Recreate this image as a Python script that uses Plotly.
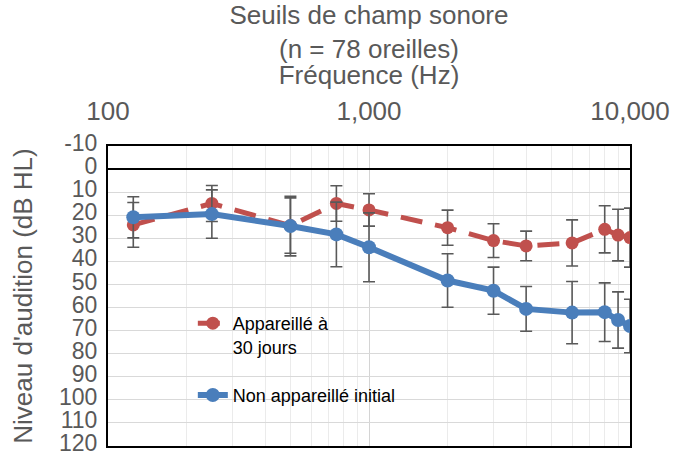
import plotly.graph_objects as go

# Data
freqs = [125, 250, 500, 750, 1000, 2000, 3000, 4000, 6000, 8000, 9000, 10000]

aided_30d = [24.2, 14.9, 24.5, 14.9, 17.7, 25.4, 31.0, 33.3, 32.0, 26.1, 28.6, 29.7]
aided_30d_err = [9.7, 7.8, 12.0, 7.7, 7.0, 7.6, 7.3, 6.4, 10.0, 10.2, 11.2, 12.8]

unaided_init = [20.9, 19.5, 24.7, 28.3, 33.9, 48.3, 52.7, 60.6, 62.2, 62.0, 65.4, 68.0]
unaided_init_err = [8.9, 10.5, 12.9, 14.0, 14.9, 11.6, 10.2, 9.7, 13.5, 12.7, 12.2, 11.6]

x_tickvals = [100, 1000, 10000]
x_ticktext = ["100", "1,000", "10,000"]
y_tickvals = list(range(-10, 130, 10))
y_ticktext = [str(v) for v in y_tickvals]

RED = "#C0504D"
BLUE = "#4A7EBB"
GREY_TXT = "#595959"
ERR = "#595959"
FONT = "Liberation Sans, Arial, sans-serif"

W, H = 675, 457

fig = go.Figure()

fig.add_trace(go.Scatter(
    x=freqs, y=aided_30d, name="Appareillé à<br>30 jours",
    mode="lines+markers", legendgroup="a",
    line=dict(color=RED, width=5, dash="22px,13px"),
    marker=dict(color=RED, size=13),
    error_y=dict(type="data", array=aided_30d_err, color=ERR, thickness=1.6, width=6),
))
fig.add_trace(go.Scatter(
    x=freqs, y=unaided_init, name="Non appareillé initial",
    mode="lines+markers", legendgroup="b",
    line=dict(color=BLUE, width=6),
    marker=dict(color=BLUE, size=14),
    error_y=dict(type="data", array=unaided_init_err, color=ERR, thickness=1.6, width=6),
))

fig.update_layout(
    width=W, height=H,
    margin=dict(l=108, r=45, t=146, b=11, autoexpand=False),
    paper_bgcolor="white", plot_bgcolor="white",
    font=dict(family=FONT, color=GREY_TXT),
    title=dict(
        text="Seuils de champ sonore<br>(n = 78 oreilles)",
        x=0.5, xanchor="center", xref="paper",
        y=1 - 24 / H, yanchor="top", yref="container",
        font=dict(size=26, color=GREY_TXT, family=FONT),
    ),
    legend=dict(
        x=0.1625, y=0.47, xanchor="left", yanchor="top",
        bgcolor="rgba(0,0,0,0)", borderwidth=0,
        font=dict(size=18, color="#000000", family=FONT),
        valign="top", tracegroupgap=22, traceorder="grouped",
    ),
    showlegend=True,
)

fig.update_xaxes(
    type="log", side="top", range=[2, 4],
    tickvals=x_tickvals, ticktext=x_ticktext,
    tickfont=dict(size=26, color=GREY_TXT),
    ticks="outside", ticklen=14, tickcolor="rgba(0,0,0,0)",
    ticklabeloverflow="allow",
    showgrid=True, gridcolor="#D4D4D4", gridwidth=1,
    minor=dict(dtick="D1", showgrid=True, gridcolor="#EBEBEB", gridwidth=1, ticks=""),
    showline=True, linecolor="black", linewidth=2, mirror=True,
    title=dict(text="Fréquence (Hz)", font=dict(size=26, color=GREY_TXT), standoff=3),
    automargin=False,
)
fig.update_yaxes(
    range=[120, -10], tickvals=y_tickvals, ticktext=y_ticktext,
    tickfont=dict(size=23, color=GREY_TXT),
    ticklabeloverflow="allow", ticklabelshift=3,
    showgrid=True, gridcolor="#D9D9D9", gridwidth=1,
    zeroline=True, zerolinecolor="black", zerolinewidth=2,
    showline=True, linecolor="black", linewidth=2, mirror=True,
    ticks="outside", ticklen=4, tickcolor="rgba(0,0,0,0)",
    title=dict(text="Niveau d'audition (dB HL)", font=dict(size=26, color=GREY_TXT), standoff=19),
    automargin=False,
)

fig.write_html(
    "out.html",
    config={"displayModeBar": False},
    post_script="document.body.style.margin='0';document.body.style.overflow='hidden';",
)
